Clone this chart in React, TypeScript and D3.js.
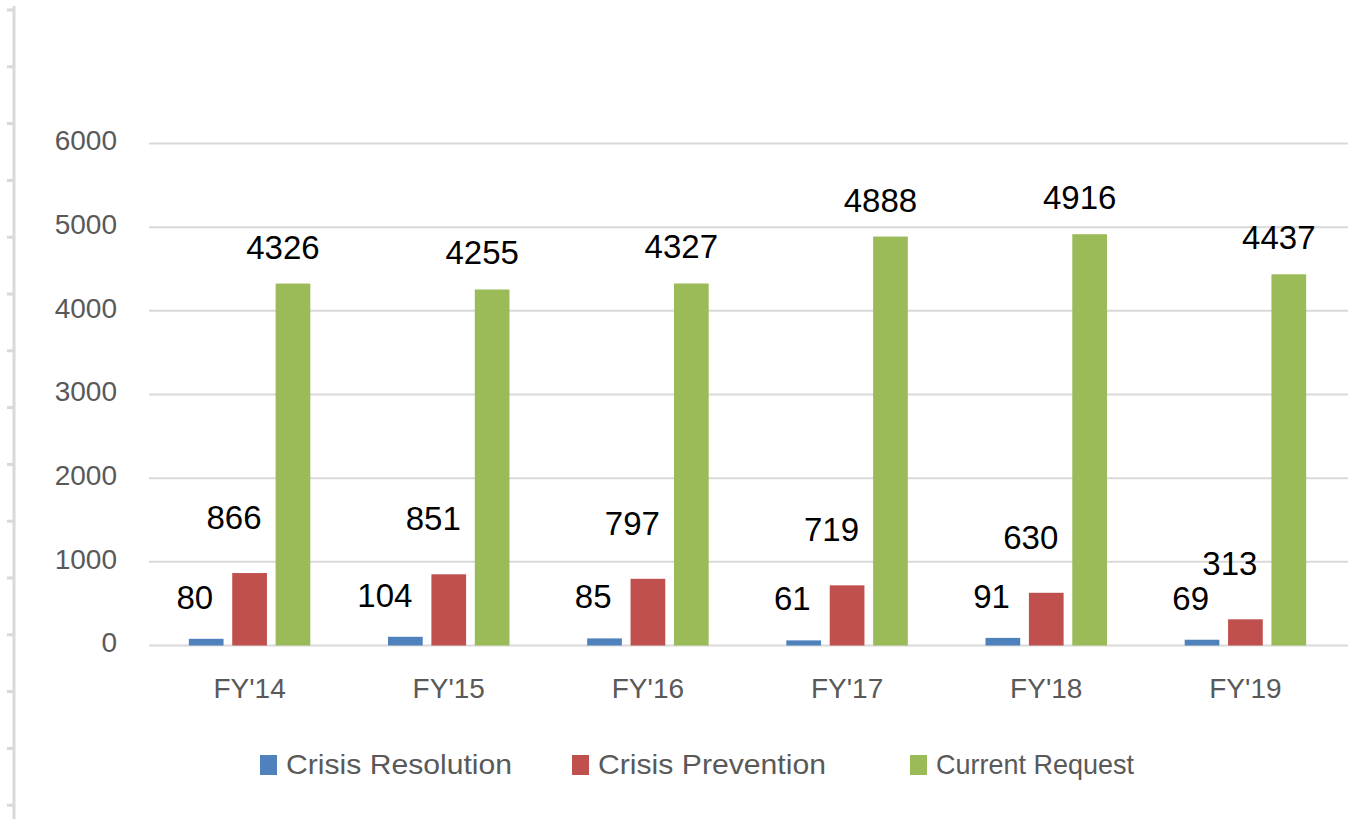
import * as React from 'react';
import {useEffect, useRef} from 'react';
import * as d3 from 'd3';

const categories = ["FY'14", "FY'15", "FY'16", "FY'17", "FY'18", "FY'19"];
const seriesNames = ['Crisis Resolution', 'Crisis Prevention', 'Current Request'];
const crisisResolution = [80, 104, 85, 61, 91, 69];
const crisisPrevention = [866, 851, 797, 719, 630, 313];
const currentRequest = [4326, 4255, 4327, 4888, 4916, 4437];
const yTicks = [0, 1000, 2000, 3000, 4000, 5000, 6000];

const colors = ['#4f81bd', '#c0504d', '#9bbb59'];
const W = 1348;
const H = 819;

// label placement per series, roughly how the picture has them
const labelStyle = [
  {anchor: 'end', dx: 7, dy: -30},
  {anchor: 'end', dx: 12, dy: -44},
  {anchor: 'middle', dx: -10, dy: -25},
];

// legend entries are set in a stretched face in the original
const legendX = [260, 572, 910];
const legendTextW = [226, 228, 198];

export default function App() {
  const ref = useRef<SVGSVGElement>(null);

  useEffect(() => {
    const svg = d3.select(ref.current);
    svg.selectAll('*').remove();

    const series = [crisisResolution, crisisPrevention, currentRequest];

    const x0 = d3.scaleBand<string>()
      .domain(categories)
      .range([150, 1345])
      .paddingInner(0.39)
      .paddingOuter(0.195);

    const x1 = d3.scaleBand<number>()
      .domain([0, 1, 2])
      .range([0, x0.bandwidth()])
      .paddingInner(0.2);

    const y = d3.scaleLinear().domain([0, 6000]).range([645.5, 143.5]);

    // left frame line with little ticks
    const frame = svg.append('g');
    frame.append('line')
      .attr('x1', 14).attr('x2', 14)
      .attr('y1', 6).attr('y2', H)
      .attr('stroke', '#d9d9d9').attr('stroke-width', 3);
    frame.selectAll('line.tick')
      .data(d3.range(10, H, 56.8))
      .join('line')
      .attr('class', 'tick')
      .attr('x1', 7).attr('x2', 14)
      .attr('y1', d => d).attr('y2', d => d)
      .attr('stroke', '#d9d9d9').attr('stroke-width', 3);

    // gridlines
    svg.append('g')
      .selectAll('line')
      .data(yTicks)
      .join('line')
      .attr('x1', 149).attr('x2', W)
      .attr('y1', d => y(d)).attr('y2', d => y(d))
      .attr('stroke', '#d9d9d9').attr('stroke-width', 2);

    // y tick labels
    svg.append('g')
      .selectAll('text')
      .data(yTicks)
      .join('text')
      .attr('x', 117)
      .attr('y', d => y(d) - 3)
      .attr('dy', '0.35em')
      .attr('text-anchor', 'end')
      .attr('fill', '#595959')
      .style('font', '28px "Liberation Sans", Arial, sans-serif')
      .text(d => d);

    // bars
    const groups = svg.append('g')
      .selectAll('g')
      .data(categories)
      .join('g')
      .attr('transform', d => `translate(${x0(d)},0)`);

    groups.selectAll('rect')
      .data((_, i) => series.map((s, k) => ({k, v: s[i]})))
      .join('rect')
      .attr('x', d => x1(d.k)!)
      .attr('width', x1.bandwidth())
      .attr('y', d => y(d.v))
      .attr('height', d => y(0) - y(d.v))
      .attr('fill', d => colors[d.k]);

    groups.selectAll('text')
      .data((_, i) => series.map((s, k) => ({k, v: s[i]})))
      .join('text')
      .attr('x', d => x1(d.k)! + x1.bandwidth() / 2 + labelStyle[d.k].dx)
      .attr('y', d => y(d.v) + labelStyle[d.k].dy)
      .attr('text-anchor', d => labelStyle[d.k].anchor)
      .attr('fill', '#000')
      .style('font', '33px "Liberation Sans", Arial, sans-serif')
      .text(d => d.v);

    // category labels
    svg.append('g')
      .selectAll('text')
      .data(categories)
      .join('text')
      .attr('x', d => x0(d)! + x0.bandwidth() / 2)
      .attr('y', 698)
      .attr('text-anchor', 'middle')
      .attr('fill', '#595959')
      .style('font', '28px "Liberation Sans", Arial, sans-serif')
      .text(d => d);

    // legend
    const legend = svg.append('g')
      .selectAll('g')
      .data(seriesNames)
      .join('g')
      .attr('transform', (_, i) => `translate(${legendX[i]},0)`);
    legend.append('rect')
      .attr('x', 0).attr('y', 755)
      .attr('width', 17).attr('height', 20)
      .attr('fill', (_, i) => colors[i]);
    legend.append('text')
      .attr('x', 26).attr('y', 774)
      .attr('fill', '#595959')
      .attr('textLength', (_, i) => legendTextW[i])
      .attr('lengthAdjust', 'spacingAndGlyphs')
      .style('font', '28px "Liberation Sans", Arial, sans-serif')
      .text(d => d);
  }, []);

  return (
    <svg ref={ref} width={W} height={H}
      style={{position: 'absolute', left: 0, top: 0, background: '#fff'}}/>
  );
}
